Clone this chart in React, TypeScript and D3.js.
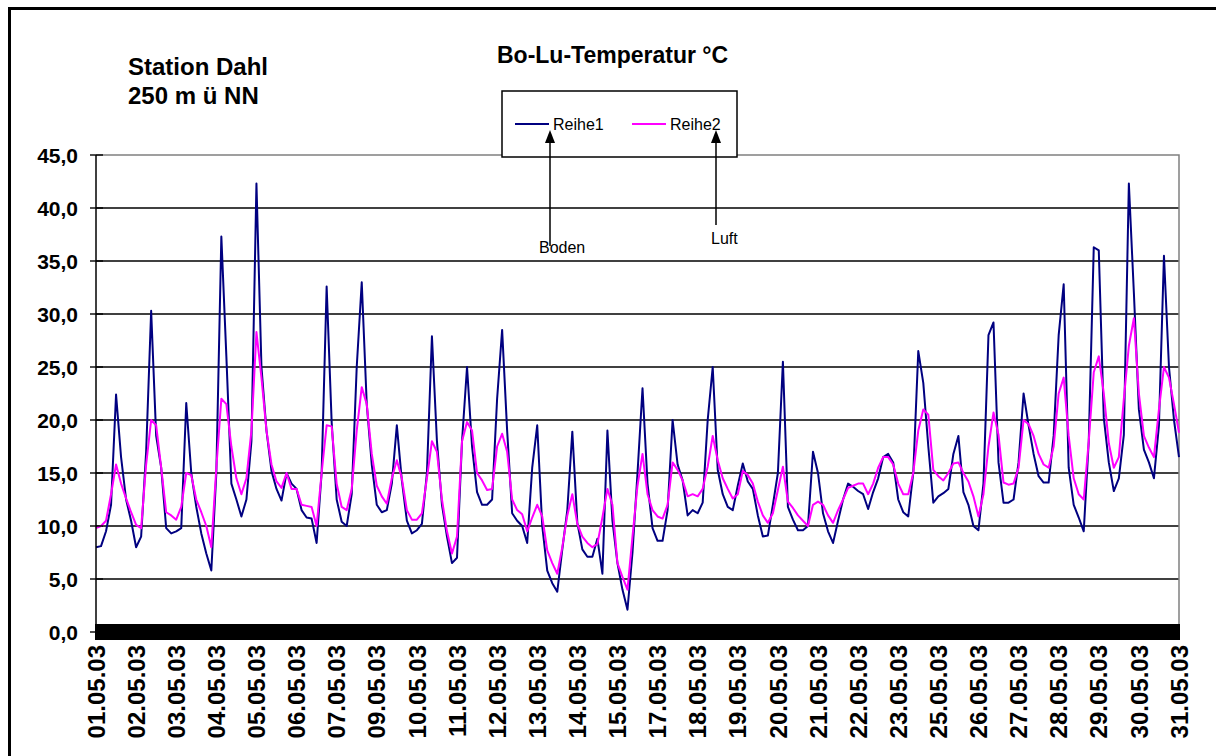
import { useEffect, useRef } from 'react';
import * as d3 from 'd3';

const DATE_LABELS = [
  '01.05.03', '02.05.03', '03.05.03', '04.05.03', '05.05.03', '06.05.03', '07.05.03',
  '09.05.03', '10.05.03', '11.05.03', '12.05.03', '13.05.03', '14.05.03', '15.05.03',
  '17.05.03', '18.05.03', '19.05.03', '20.05.03', '21.05.03', '22.05.03', '23.05.03',
  '25.05.03', '26.05.03', '27.05.03', '28.05.03', '29.05.03', '30.05.03', '31.05.03',
];

const Y_TICKS = [0, 5, 10, 15, 20, 25, 30, 35, 40, 45];

// Reihe1 = Boden, every 3 categories
const BODEN = [
  8.0, 8.1, 9.5, 12.0, 22.4, 16.5, 12.5, 10.5, 8.0, 9.0,
  17.0, 30.3, 18.5, 15.5, 9.8, 9.3, 9.5, 9.8, 21.6, 15.0,
  11.8, 9.3, 7.4, 5.8, 15.0, 37.3, 26.0, 14.0, 12.5, 10.9,
  12.5, 18.0, 42.3, 25.0, 19.0, 15.2, 13.5, 12.4, 15.0, 14.0,
  13.5, 11.5, 10.8, 10.7, 8.4, 15.0, 32.6, 19.8, 12.5, 10.4,
  10.0, 13.0, 25.0, 33.0, 21.5, 15.8, 12.0, 11.3, 11.5, 14.0,
  19.5, 14.3, 10.5, 9.3, 9.6, 10.2, 15.0, 27.9, 18.0, 12.0,
  9.0, 6.5, 7.0, 18.0, 25.0, 17.5, 13.2, 12.0, 12.0, 12.5,
  22.0, 28.5, 19.0, 11.2, 10.5, 10.0, 8.4, 15.5, 19.5, 10.0,
  5.8, 4.6, 3.8, 7.8, 11.5, 18.9, 10.3, 7.8, 7.1, 7.1,
  8.8, 5.5, 19.0, 10.5, 6.5, 4.0, 2.1, 7.5, 15.0, 23.0,
  14.0, 9.8, 8.6, 8.6, 11.5, 20.0, 15.8, 14.3, 11.0, 11.5,
  11.2, 12.2, 20.0, 25.0, 15.3, 13.0, 11.8, 11.5, 13.8, 15.9,
  14.2, 13.5, 11.0, 9.0, 9.1, 12.0, 15.0, 25.5, 11.8, 10.6,
  9.6, 9.6, 10.0, 17.0, 15.0, 11.2, 9.5, 8.4, 10.5, 12.5,
  14.0, 13.7, 13.3, 13.0, 11.6, 13.2, 14.5, 16.5, 16.8, 16.0,
  12.5, 11.3, 10.9, 15.0, 26.5, 23.5, 17.5, 12.2, 12.8, 13.1,
  13.5, 16.8, 18.5, 13.2, 12.0, 10.0, 9.6, 14.0, 28.0, 29.2,
  16.0, 12.2, 12.2, 12.5, 16.0, 22.5, 19.5, 16.8, 14.7, 14.1,
  14.1, 18.5, 28.0, 32.8, 15.5, 12.0, 10.8, 9.5, 18.0, 36.3,
  36.0, 20.2, 16.0, 13.3, 14.5, 18.6, 42.3, 32.0, 21.0, 17.2,
  16.0, 14.5, 19.5, 35.5, 25.0, 20.0, 16.5,
];

// Reihe2 = Luft
const LUFT = [
  9.8, 10.0, 10.5, 13.0, 15.8, 14.0, 12.6, 11.3, 10.1, 9.8,
  15.8, 20.0, 19.5, 15.5, 11.3, 11.0, 10.6, 11.8, 15.0, 14.8,
  12.5, 11.3, 10.0, 8.0, 15.5, 22.0, 21.5, 17.5, 14.5, 13.0,
  14.5, 19.0, 28.3, 24.0, 19.0, 15.8, 14.2, 13.6, 15.0, 13.5,
  13.5, 12.0, 11.9, 11.8, 10.0, 15.0, 19.5, 19.4, 14.0, 11.8,
  11.5, 13.5, 19.0, 23.1, 21.5, 16.8, 13.8, 12.8, 12.1, 14.5,
  16.2, 14.5, 11.5, 10.6, 10.6, 11.2, 14.5, 18.0, 17.0, 12.5,
  9.5, 7.4, 9.0, 18.0, 19.8, 19.0, 15.0, 14.3, 13.4, 13.5,
  17.5, 18.7, 17.0, 12.5, 11.5, 11.1, 9.5, 10.8, 12.0, 10.9,
  7.7, 6.5, 5.5, 8.0, 11.0, 13.0, 10.2, 9.0, 8.4, 8.0,
  8.3, 10.8, 13.5, 12.0, 6.5, 5.2, 4.0, 9.0, 13.8, 16.8,
  13.0, 11.5, 10.9, 10.7, 12.0, 16.0, 15.3, 14.3, 12.8, 13.0,
  12.8, 13.5, 15.6, 18.5, 16.2, 14.5, 13.5, 12.6, 13.0, 15.2,
  14.8, 14.0, 12.3, 11.0, 10.3, 11.2, 13.4, 15.6, 12.3, 11.7,
  11.0, 10.5, 10.0, 12.0, 12.3, 12.0, 11.0, 10.3, 11.5, 12.5,
  13.6, 13.8, 14.0, 14.0, 13.0, 14.0, 15.5, 16.5, 16.5, 15.8,
  14.0, 13.0, 13.0, 15.0, 19.0, 21.0, 20.5, 15.3, 14.7, 14.3,
  15.0, 15.9, 16.0, 15.0, 14.2, 12.8, 10.9, 13.0, 17.5, 20.7,
  18.6, 14.1, 13.9, 14.0, 15.5, 20.0, 19.6, 18.5, 16.8, 15.8,
  15.5, 17.5, 22.5, 24.0, 18.5, 14.5, 13.0, 12.5, 18.0, 24.5,
  26.0, 22.5, 17.8, 15.5, 16.5, 22.0, 27.0, 29.6, 22.5, 18.5,
  17.4, 16.5, 21.0, 25.0, 24.0, 21.5, 18.8,
];

const SERIES = [
  { name: 'Reihe1', note: 'Boden', values: BODEN, color: '#000080' },
  { name: 'Reihe2', note: 'Luft', values: LUFT, color: '#ff00ff' },
];

const W = 1216;
const H = 756;
const CATS_PER_LABEL = 24;
const CATS_PER_SAMPLE = 3;
const FONT = '"Liberation Sans", Arial, sans-serif';

export default function App() {
  const svgRef = useRef<SVGSVGElement>(null);

  useEffect(() => {
    if (!svgRef.current) return;
    const svg = d3.select(svgRef.current);
    svg.selectAll('*').remove();

    const nCat = (DATE_LABELS.length - 1) * CATS_PER_LABEL + 1;
    const left = 96, right = 1179, top = 155, bottom = 632;
    const x = d3.scaleLinear().domain([0, nCat - 1]).range([left, right]);
    const y = d3.scaleLinear().domain([0, 45]).range([bottom, top]);
    const de = d3.formatLocale({ decimal: ',', thousands: '.', grouping: [3], currency: ['', ' €'] });
    const fmt = de.format('.1f');

    // outer frame (runs off the picture on the right and bottom)
    svg.append('rect')
      .attr('x', 9.5).attr('y', 8.5).attr('width', W + 20).attr('height', H + 20)
      .attr('fill', 'white').attr('stroke', '#000').attr('stroke-width', 3);

    // gridlines
    svg.append('g').selectAll('line').data(Y_TICKS.filter(t => t > 0 && t < 45)).join('line')
      .attr('x1', left).attr('x2', right)
      .attr('y1', d => y(d)).attr('y2', d => y(d))
      .attr('stroke', '#000').attr('stroke-width', 1.4);

    // plot area border (top + right, grey)
    svg.append('path')
      .attr('d', `M${left},${y(45)}H${right}V${bottom}`)
      .attr('fill', 'none').attr('stroke', '#808080').attr('stroke-width', 1.5);

    // series
    const line = d3.line<number>()
      .x((_, i) => x(i * CATS_PER_SAMPLE))
      .y(d => y(d));

    SERIES.forEach(s => {
      svg.append('path')
        .datum(s.values)
        .attr('d', line)
        .attr('fill', 'none')
        .attr('stroke', s.color)
        .attr('stroke-width', 2)
        .attr('stroke-linejoin', 'round');
    });

    // y axis
    svg.append('line')
      .attr('x1', left).attr('x2', left).attr('y1', y(45)).attr('y2', bottom + 8)
      .attr('stroke', '#000').attr('stroke-width', 1.5);
    svg.append('g').selectAll('line').data(Y_TICKS).join('line')
      .attr('x1', left - 6).attr('x2', left + 7)
      .attr('y1', d => y(d)).attr('y2', d => y(d))
      .attr('stroke', '#000').attr('stroke-width', 1.4);
    svg.append('g').selectAll('text').data(Y_TICKS).join('text')
      .attr('x', 78).attr('y', d => y(d)).attr('dy', '0.36em')
      .attr('text-anchor', 'end')
      .attr('font-family', FONT).attr('font-size', 21).attr('font-weight', 'bold')
      .text(d => fmt(d));

    // x axis: one tick per category makes the black band
    svg.append('line')
      .attr('x1', left).attr('x2', right).attr('y1', bottom).attr('y2', bottom)
      .attr('stroke', '#000').attr('stroke-width', 1.5);
    svg.append('g').attr('shape-rendering', 'crispEdges')
      .selectAll('line').data(d3.range(nCat)).join('line')
      .attr('x1', d => x(d)).attr('x2', d => x(d))
      .attr('y1', bottom - 8).attr('y2', bottom + 8)
      .attr('stroke', '#000').attr('stroke-width', 2);

    svg.append('g').selectAll('text').data(DATE_LABELS).join('text')
      .attr('transform', (_, i) => `translate(${x(i * CATS_PER_LABEL)},${bottom + 13}) rotate(-90)`)
      .attr('dy', '0.36em')
      .attr('text-anchor', 'end')
      .attr('font-family', FONT).attr('font-size', 24).attr('font-weight', 'bold')
      .text(d => d);

    // titles
    svg.append('text').attr('x', 497).attr('y', 63)
      .attr('font-family', FONT).attr('font-size', 23).attr('font-weight', 'bold')
      .text('Bo-Lu-Temperatur °C');
    svg.append('text').attr('x', 128).attr('y', 75)
      .attr('font-family', FONT).attr('font-size', 24).attr('font-weight', 'bold')
      .text('Station Dahl');
    svg.append('text').attr('x', 128).attr('y', 104)
      .attr('font-family', FONT).attr('font-size', 24).attr('font-weight', 'bold')
      .text('250 m ü NN');

    // legend
    const lg = svg.append('g');
    lg.append('rect').attr('x', 502).attr('y', 91).attr('width', 235).attr('height', 66)
      .attr('fill', 'white').attr('stroke', '#000').attr('stroke-width', 1.5);
    const legendX = [515, 632];
    SERIES.forEach((s, i) => {
      lg.append('line')
        .attr('x1', legendX[i]).attr('x2', legendX[i] + 34).attr('y1', 124).attr('y2', 124)
        .attr('stroke', s.color).attr('stroke-width', 2);
      lg.append('text').attr('x', legendX[i] + 38).attr('y', 124).attr('dy', '0.36em')
        .attr('font-family', FONT).attr('font-size', 16)
        .text(s.name);
    });

    // arrows with notes
    const arrows = [
      { x: 550, from: 246, textX: 539, textY: 253 },
      { x: 716, from: 225, textX: 711, textY: 244 },
    ];
    arrows.forEach((a, i) => {
      svg.append('text').attr('x', a.textX).attr('y', a.textY)
        .attr('font-family', FONT).attr('font-size', 16)
        .text(SERIES[i].note);
      svg.append('line')
        .attr('x1', a.x).attr('x2', a.x).attr('y1', a.from).attr('y2', 140)
        .attr('stroke', '#000').attr('stroke-width', 1.5);
      svg.append('path')
        .attr('d', `M${a.x},130L${a.x - 5},143L${a.x + 5},143Z`)
        .attr('fill', '#000');
    });
  }, []);

  return (
    <div style={{ position: 'fixed', left: 0, top: 0, width: W, height: H, background: 'white' }}>
      <svg ref={svgRef} width={W} height={H} />
    </div>
  );
}
